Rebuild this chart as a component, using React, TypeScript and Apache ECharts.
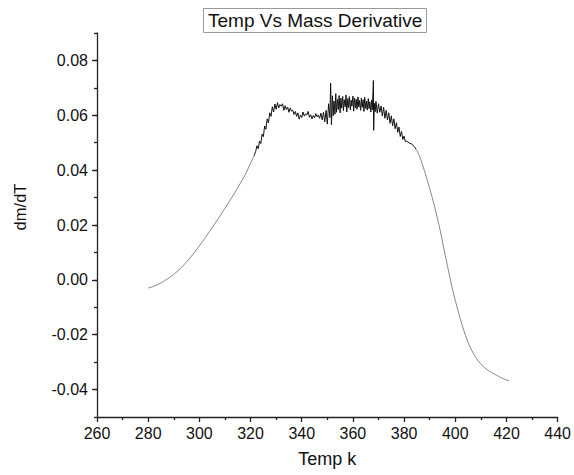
import React, { useEffect, useRef } from "react";
import * as echarts from "echarts";

const chartTitle = "Temp Vs Mass Derivative";
const xName = "Temp k";
const yName = "dm/dT";

const xTicks = [260, 280, 300, 320, 340, 360, 380, 400, 420, 440];
const yTickLabels = [-0.04, -0.02, 0.0, 0.02, 0.04, 0.06, 0.08];

// smooth rising part
const riseTemp = [280, 282, 284, 286, 288, 290, 292, 294, 296, 298, 300, 302, 304, 306, 308, 310, 312, 314, 316, 318, 320, 321];
const riseVal = [-0.003, -0.0024, -0.0016, -0.0006, 0.0006, 0.002, 0.0036, 0.0055, 0.0076, 0.0099, 0.0124, 0.015, 0.0177, 0.0204, 0.0232, 0.0261, 0.029, 0.032, 0.0352, 0.0385, 0.0425, 0.0445];

// noisy plateau
const plateauTemp = [
  322.0, 322.5, 323.0, 323.5, 324.0, 324.5, 325.0, 325.5, 326.0, 326.5,
  327.0, 327.5, 328.0, 328.5, 329.0, 329.5, 330.0, 330.5, 331.0, 331.5,
  332.0, 332.5, 333.0, 333.5, 334.0, 334.5, 335.0, 335.5, 336.0, 336.5,
  337.0, 337.5, 338.0, 338.5, 339.0, 339.5, 340.0, 340.5, 341.0, 341.5,
  342.0, 342.5, 343.0, 343.5, 344.0, 344.5, 345.0, 345.5, 346.0, 346.5,
  347.0, 347.5, 348.0, 348.5, 349.0, 349.5, 350.0, 350.5, 351.0, 351.3,
  351.6, 352.0, 352.3, 352.6, 353.0, 353.3, 353.6, 354.0, 354.3, 354.6,
  355.0, 355.3, 355.6, 356.0, 356.3, 356.6, 357.0, 357.3, 357.6, 358.0,
  358.3, 358.6, 359.0, 359.3, 359.6, 360.0, 360.3, 360.6, 361.0, 361.3,
  361.6, 362.0, 362.3, 362.6, 363.0, 363.3, 363.6, 364.0, 364.3, 364.6,
  365.0, 365.3, 365.6, 366.0, 366.3, 366.6, 367.0, 367.3, 367.6, 368.0,
  368.1, 368.4, 368.7, 369.0, 369.5, 370.0, 370.5, 371.0, 371.5, 372.0,
  372.5, 373.0, 373.5, 374.0, 374.5, 375.0, 375.5, 376.0, 376.5, 377.0,
  377.5, 378.0, 378.5, 379.0, 379.5, 380.0, 380.5, 381.0, 382.0, 383.0,
  384.0,
];
const plateauVal = [
  0.0468, 0.0489, 0.0478, 0.0506, 0.0497, 0.0531, 0.0522, 0.0561, 0.0549, 0.0587,
  0.0572, 0.0609, 0.0596, 0.0631, 0.0612, 0.0641, 0.0622, 0.0646, 0.0627, 0.0639,
  0.0633, 0.0642, 0.0618, 0.0635, 0.0621, 0.063, 0.0611, 0.0627, 0.0615, 0.0619,
  0.0603, 0.0614, 0.0596, 0.0609, 0.0586, 0.0601, 0.0592, 0.0612, 0.0597, 0.0605,
  0.0601, 0.0614, 0.0593, 0.0602, 0.0587, 0.0599, 0.0591, 0.0606, 0.0594, 0.0601,
  0.0589, 0.0608, 0.0583, 0.0611, 0.0576, 0.0618, 0.0568, 0.0642, 0.0592, 0.0717,
  0.0566, 0.0671, 0.0598, 0.0652, 0.0604, 0.0679, 0.0611, 0.0658, 0.0621, 0.0672,
  0.0609, 0.0663, 0.0626, 0.0669, 0.0617, 0.0657, 0.0631, 0.0674, 0.0612, 0.0661,
  0.0628, 0.0668, 0.062, 0.0655, 0.0633, 0.067, 0.0615, 0.0662, 0.0627, 0.0659,
  0.0622, 0.0667, 0.063, 0.0654, 0.0618, 0.0663, 0.0629, 0.0657, 0.0614, 0.0666,
  0.0625, 0.0652, 0.0619, 0.0661, 0.0624, 0.0649, 0.0612, 0.0656, 0.062, 0.0727,
  0.0545, 0.0644, 0.0613, 0.0651, 0.0608, 0.0642, 0.0611, 0.0634, 0.0597, 0.0629,
  0.0589, 0.0618, 0.0583, 0.0609, 0.0571, 0.0598, 0.0562, 0.0587, 0.0551, 0.0573,
  0.0538, 0.0557, 0.0523, 0.0541, 0.0512, 0.0524, 0.0504, 0.0506, 0.0499, 0.0495,
  0.0486,
];

// smooth falling part
const fallTemp = [385, 386, 387, 388, 389, 390, 391, 392, 393, 394, 395, 396, 397, 398, 399, 400, 401, 402, 403, 404, 405, 406, 407, 408, 409, 410, 411, 412, 413, 414, 415, 416, 417, 418, 419, 420, 421];
const fallVal = [0.0472, 0.0452, 0.0425, 0.0396, 0.0365, 0.0333, 0.03, 0.0264, 0.0225, 0.0185, 0.0138, 0.0093, 0.0048, 0.0005, -0.0038, -0.0075, -0.011, -0.0144, -0.0175, -0.0203, -0.0228, -0.0249, -0.0267, -0.0283, -0.0296, -0.0307, -0.0316, -0.0324, -0.0331, -0.0337, -0.0342, -0.0347, -0.0352, -0.0357, -0.0361, -0.0365, -0.0368];

const FONT = "'Liberation Sans', Arial, sans-serif";
const AXIS_COLOR = "#222";

export default function App() {
  const ref = useRef<HTMLDivElement>(null);

  useEffect(() => {
    if (!ref.current) return;
    const chart = echarts.init(ref.current, undefined, { renderer: "svg" });

    const temps = [...riseTemp, ...plateauTemp, ...fallTemp];
    const vals = [...riseVal, ...plateauVal, ...fallVal];
    const data = temps.map((t, i) => [t, vals[i]]);

    const axisLine = { show: true, onZero: false, lineStyle: { color: AXIS_COLOR, width: 1.3 } };

    chart.setOption({
      animation: false,
      backgroundColor: "#fff",
      textStyle: { fontFamily: FONT },
      title: {
        text: chartTitle,
        left: 203,
        top: 8,
        padding: [3, 4, 3, 5],
        borderColor: "#999",
        borderWidth: 1,
        textStyle: { fontSize: 19, fontWeight: "normal", color: "#111", fontFamily: FONT },
      },
      grid: { left: 97, right: 13, top: 33, bottom: 58 },
      visualMap: {
        show: false,
        type: "piecewise",
        dimension: 0,
        seriesIndex: 0,
        pieces: [
          { lt: 321.5, color: "#888" },
          { gte: 321.5, lte: 384.5, color: "#111" },
          { gt: 384.5, color: "#888" },
        ],
      },
      xAxis: {
        type: "value",
        min: xTicks[0],
        max: xTicks[xTicks.length - 1],
        interval: 20,
        name: xName,
        nameLocation: "middle",
        nameGap: 33,
        nameTextStyle: { fontSize: 18, color: "#111", fontFamily: FONT },
        axisLine,
        axisTick: { show: true, inside: false, length: 5, lineStyle: { color: AXIS_COLOR, width: 1.3 } },
        minorTick: { show: true, splitNumber: 2, length: 3, lineStyle: { color: AXIS_COLOR, width: 1.3 } },
        axisLabel: { fontSize: 16, color: "#111", margin: 8, fontFamily: FONT },
        splitLine: { show: false },
        minorSplitLine: { show: false },
      },
      yAxis: [
        {
          type: "value",
          min: -0.05,
          max: 0.09,
          interval: 0.01,
          axisLine,
          axisTick: {
            show: true,
            length: 5,
            customValues: yTickLabels,
            lineStyle: { color: AXIS_COLOR, width: 1.3 },
          },
          axisLabel: {
            customValues: yTickLabels,
            fontSize: 16,
            color: "#111",
            margin: 9,
            fontFamily: FONT,
            formatter: (v: number) => v.toFixed(2),
          },
          splitLine: { show: false },
        },
        {
          type: "value",
          min: -0.05,
          max: 0.09,
          interval: 0.01,
          position: "left",
          axisLine: { show: false, onZero: false },
          axisTick: { show: true, length: 3, lineStyle: { color: AXIS_COLOR, width: 1.3 } },
          axisLabel: { show: false },
          splitLine: { show: false },
        },
      ],
      graphic: [
        {
          type: "text",
          x: 20,
          y: 207,
          rotation: Math.PI / 2,
          style: {
            text: yName,
            fontSize: 16.5,
            fontFamily: FONT,
            fill: "#111",
            align: "center",
            verticalAlign: "middle",
          },
        },
      ],
      series: [
        {
          type: "line",
          data,
          showSymbol: false,
          symbol: "none",
          lineStyle: { width: 1 },
          yAxisIndex: 0,
        },
      ],
    });

    return () => chart.dispose();
  }, []);

  return (
    <div
      ref={ref}
      style={{ position: "fixed", left: 0, top: 0, width: 574, height: 475, background: "#fff" }}
    />
  );
}
